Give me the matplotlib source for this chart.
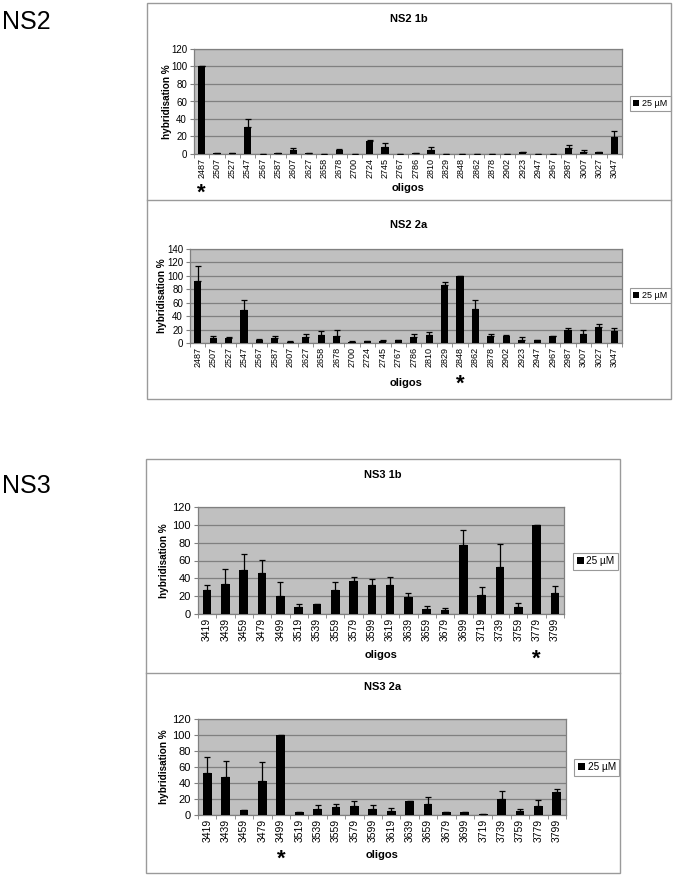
import matplotlib
matplotlib.use("Agg")
import matplotlib.pyplot as plt
import numpy as np
from matplotlib.patches import Rectangle
from matplotlib.transforms import blended_transform_factory

plt.rcParams['font.family'] = ['Liberation Sans', 'DejaVu Sans']

# ---------------- data ----------------
ns2_oligos = ["2487", "2507", "2527", "2547", "2567", "2587", "2607", "2627", "2658", "2678",
              "2700", "2724", "2745", "2767", "2786", "2810", "2829", "2848", "2862", "2878",
              "2902", "2923", "2947", "2967", "2987", "3007", "3027", "3047"]
ns2_1b_vals = [100, 1.5, 1.5, 31, 0.5, 1.5, 5, 1.5, 0.5, 4.5,
               0.5, 14.5, 8, 0.5, 1.5, 4.5, 0.5, 0.5, 0.5, 0.5,
               0.5, 2, 0.5, 0.5, 6.5, 2.5, 2, 19]
ns2_1b_err = [0, 0, 0, 9, 0, 0, 2, 0, 0, 1,
              0, 2, 4, 0, 0, 3, 0, 0, 0, 0,
              0, 0.5, 0, 0, 3.5, 2.5, 0.5, 7]
ns2_2a_vals = [93, 7, 8, 49, 4, 7.5, 2, 8.5, 12, 10,
               2, 3, 3, 4, 9, 12, 86, 100, 51, 10,
               10, 4, 4, 10, 20, 13, 24, 18]
ns2_2a_err = [22, 4, 0.5, 15, 2, 2.5, 0.5, 5, 6, 10,
              0.5, 0.5, 1.5, 0.5, 4.5, 4.5, 5, 0, 13, 3.5,
              2, 4.5, 0.5, 0.5, 2, 7, 5, 4]

ns3_oligos = ["3419", "3439", "3459", "3479", "3499", "3519", "3539", "3559", "3579", "3599",
              "3619", "3639", "3659", "3679", "3699", "3719", "3739", "3759", "3779", "3799"]
ns3_1b_vals = [27, 34, 49, 46, 20, 8, 11, 27, 37, 32,
               33, 19, 6, 4.5, 77, 21, 53, 7.5, 100, 24]
ns3_1b_err = [6, 17, 18, 15, 16, 3, 0, 9, 4, 7,
              8, 5, 3, 2.5, 17, 9, 26, 4.5, 0, 7]
ns3_2a_vals = [53, 47, 6, 43, 100, 4, 7, 10, 11.5, 7,
               5.5, 17, 14, 3.5, 3.5, 1, 20, 5, 11, 29]
ns3_2a_err = [19, 21, 0, 23, 0, 0, 5, 3.5, 5.5, 5,
              3.5, 0, 8, 0, 0, 0, 10, 2, 7.5, 3]

series_label = "25 µM"
titles = ["NS2 1b", "NS2 2a", "NS3 1b", "NS3 2a"]
section_labels = ["NS2", "NS3"]
star_index = [0, 17, 18, 4]

# ---------------- layout (pixels) ----------------
W, H = 674, 875
fig = plt.figure(figsize=(W / 100, H / 100), dpi=100)

def fx(x):
    return x / W

def fy(y):
    return 1 - y / H

def box(x0, y0, x1, y1):
    fig.patches.append(Rectangle((fx(x0), fy(y1)), fx(x1) - fx(x0), fy(y0) - fy(y1),
                                 transform=fig.transFigure, fill=False,
                                 edgecolor="#9a9a9a", linewidth=1.0))

def hline(x0, x1, y):
    fig.add_artist(plt.Line2D([fx(x0), fx(x1)], [fy(y), fy(y)], transform=fig.transFigure,
                              color="#9a9a9a", linewidth=1.0))

box(147, 3, 671, 399)
hline(147, 671, 200)
box(146, 459, 620, 873)
hline(146, 620, 673)

fig.text(fx(2), fy(22), section_labels[0], fontsize=18, va="center", ha="left")
fig.text(fx(2), fy(486), section_labels[1], fontsize=18, va="center", ha="left")

panels = [
    dict(labels=ns2_oligos, vals=ns2_1b_vals, err=ns2_1b_err, ymax=120,
         ax=(194, 622, 49, 154), title_y=19, title_x=409, olig_y=188, ylab_x=167,
         leg=(630, 103.5), star_y=193, fs=6.5, lfs=6.5),
    dict(labels=ns2_oligos, vals=ns2_2a_vals, err=ns2_2a_err, ymax=140,
         ax=(190, 622, 249, 343), title_y=225, title_x=409, olig_y=383, ylab_x=162,
         leg=(630, 295.5), star_y=384, fs=6.5, lfs=6.5),
    dict(labels=ns3_oligos, vals=ns3_1b_vals, err=ns3_1b_err, ymax=120,
         ax=(198, 564, 507, 614), title_y=475, title_x=383, olig_y=655, ylab_x=164,
         leg=(573, 561), star_y=659, fs=7.5, lfs=7.2),
    dict(labels=ns3_oligos, vals=ns3_2a_vals, err=ns3_2a_err, ymax=120,
         ax=(198, 566, 719, 815), title_y=687, title_x=383, olig_y=855, ylab_x=164,
         leg=(574, 767), star_y=859, fs=7.5, lfs=7.2),
]

for i, p in enumerate(panels):
    x0, x1, y0, y1 = p["ax"]
    ax = fig.add_axes([fx(x0), fy(y1), fx(x1) - fx(x0), fy(y0) - fy(y1)])
    ax.set_facecolor("#c0c0c0")
    n = len(p["labels"])
    xs = np.arange(n)
    err = np.array(p["err"])
    bars = ax.bar(xs, p["vals"], width=0.47, color="black", zorder=3, label=series_label)
    ax.errorbar(xs, p["vals"], yerr=[np.zeros(n), err], fmt="none", ecolor="black",
                elinewidth=0.9, capsize=2.2, capthick=0.9, zorder=4)
    ax.set_xlim(-0.5, n - 0.5)
    ax.set_ylim(0, p["ymax"])
    ax.set_yticks(np.arange(0, p["ymax"] + 1, 20))
    ax.yaxis.grid(True, color="#808080", linewidth=0.9, zorder=1)
    ax.set_axisbelow(True)
    ax.set_xticks(xs)
    ax.set_xticklabels(p["labels"], rotation=90, fontsize=p["fs"])
    ax.set_xticks(np.arange(-0.5, n, 1.0), minor=True)
    ax.tick_params(axis="x", which="major", length=0, pad=3)
    ax.tick_params(axis="x", which="minor", length=3, color="#808080", direction="out")
    ax.tick_params(axis="y", labelsize=p["fs"] + 0.5, length=3, color="#808080", pad=2)
    for s in ax.spines.values():
        s.set_color("#808080")
        s.set_linewidth(0.9)
    fig.text(fx(p["title_x"]), fy(p["title_y"]), titles[i], fontsize=8, fontweight="bold",
             ha="center", va="center")
    fig.text(fx((x0 + x1) / 2), fy(p["olig_y"]), "oligos", fontsize=8, fontweight="bold",
             ha="center", va="center")
    fig.text(fx(p["ylab_x"]), fy((y0 + y1) / 2), "hybridisation %", fontsize=7.2,
             fontweight="bold", rotation=90, ha="center", va="center")
    trans = blended_transform_factory(ax.transData, fig.transFigure)
    ax.text(xs[star_index[i]], fy(p["star_y"]), "*", transform=trans, fontsize=16,
            fontweight="bold", ha="center", va="center", clip_on=False)
    lx, ly = p["leg"]
    leg = ax.legend(handles=[bars], loc="center left", bbox_to_anchor=(fx(lx), fy(ly)),
                    bbox_transform=fig.transFigure, fontsize=p["lfs"], frameon=True,
                    fancybox=False, borderpad=0.35, handlelength=0.7, handleheight=0.7,
                    handletextpad=0.3, borderaxespad=0)
    leg.get_frame().set_edgecolor("#808080")
    leg.get_frame().set_linewidth(0.8)

fig.savefig("out.png", dpi=100, facecolor="white")
